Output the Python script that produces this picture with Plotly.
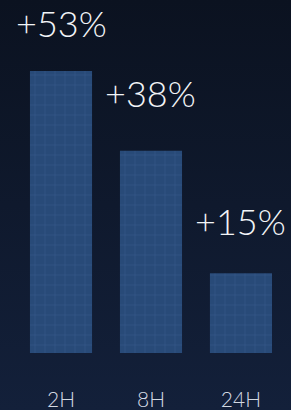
import plotly.graph_objects as go

categories = ["2H", "8H", "24H"]
values = [53, 38, 15]
labels = ["+53%", "+38%", "+15%"]

label_shift = [48, 58, 52]  # px offsets of the value labels above bar tops

fig = go.Figure()

# background gradient on a full-size helper subplot
fig.add_trace(go.Scatter(
    x=[0, 1, 1, 0, 0], y=[0, 0, 1, 1, 0],
    mode="lines", fill="toself", line=dict(width=0),
    fillgradient=dict(type="vertical",
                      colorscale=[[0, "#13203a"], [1, "#0b1220"]]),
    hoverinfo="skip", showlegend=False,
    xaxis="x", yaxis="y",
))

fig.add_trace(go.Bar(
    x=categories, y=values, width=0.69,
    marker=dict(
        color="#284a78",
        line=dict(width=0),
        pattern=dict(shape="+", fillmode="replace", size=10, solidity=0.1,
                     fgcolor="#37598c", bgcolor="#284a78"),
    ),
    showlegend=False, hoverinfo="skip",
    xaxis="x2", yaxis="y2",
))

for c, v, t, s in zip(categories, values, labels, label_shift):
    fig.add_annotation(
        x=c, y=v, xref="x2", yref="y2", text=t, showarrow=False,
        yanchor="middle", yshift=s,
        font=dict(family="Lato", size=36, color="#f2f4f7", weight=300),
    )

fig.update_layout(
    width=291, height=410,
    margin=dict(l=0, r=0, t=0, b=0),
    paper_bgcolor="#0e182a", plot_bgcolor="rgba(0,0,0,0)",
    xaxis=dict(domain=[0, 1], range=[0, 1], visible=False, fixedrange=True),
    yaxis=dict(domain=[0, 1], range=[0, 1], visible=False, fixedrange=True),
    xaxis2=dict(domain=[0, 1], anchor="y2", range=[-0.678, 2.556],
                showgrid=False, zeroline=False, showline=False, ticks="",
                ticklabelstandoff=32, fixedrange=True,
                tickfont=dict(family="Lato", size=21, color="#d3d9e2", weight=300)),
    yaxis2=dict(domain=[57 / 410, 1], anchor="x2", range=[0, 66.35],
                visible=False, showgrid=False, zeroline=False, fixedrange=True),
    showlegend=False,
)

fig.write_html(
    "out.html",
    config={"displayModeBar": False, "staticPlot": True},
    post_script="document.body.style.margin='0';document.body.style.overflow='hidden';",
)
